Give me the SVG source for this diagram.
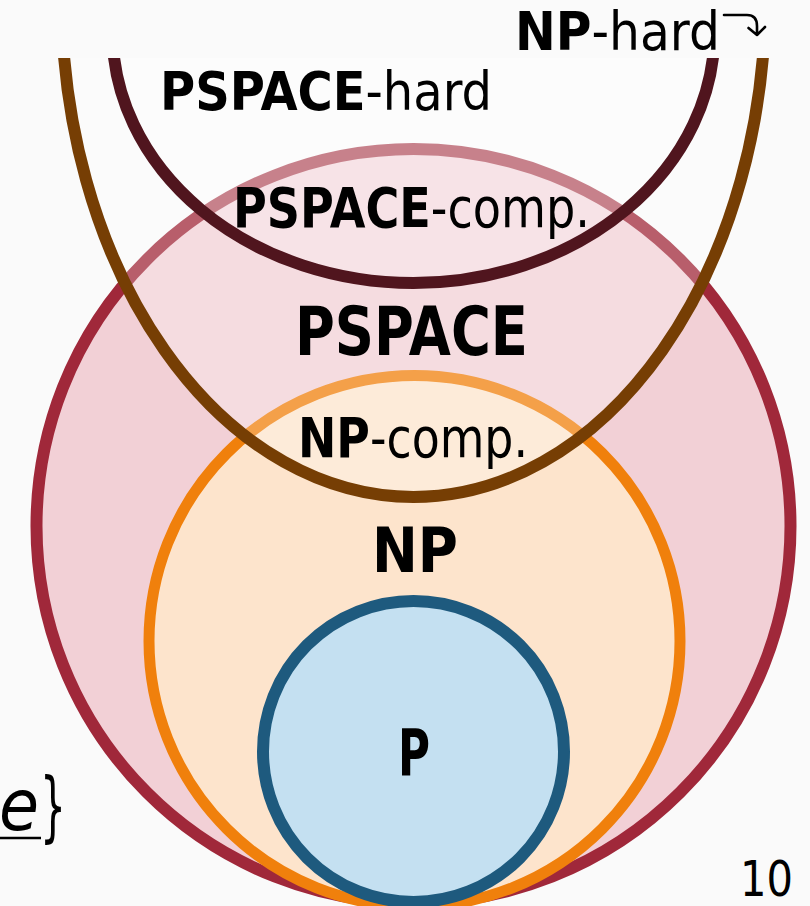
<svg xmlns="http://www.w3.org/2000/svg" width="810" height="906" viewBox="0 0 810 906">
<defs>
<style>
.lbl{font-family:"DejaVu Sans","Liberation Sans",sans-serif;fill:#000}
.b{font-weight:bold}
.ufill{fill:#ffffff}
</style>
<clipPath id="clipTop"><rect x="0" y="58" width="810" height="848"/></clipPath>
</defs>
<rect width="810" height="906" fill="#fafafa"/>
<g id="pspace">
<circle cx="413.5" cy="526" r="377" fill="#f2d0d6" stroke="#a0283a" stroke-width="12"/>
</g>
<g id="np">
<circle cx="414.5" cy="641" r="265.5" fill="#fde4cc" stroke="#f0800c" stroke-width="11"/>
</g>
<g id="p">
<circle cx="413.5" cy="751.5" r="150.5" fill="#c4e0f1" stroke="#1e5a7e" stroke-width="12"/>
</g>
<g id="np-hard" clip-path="url(#clipTop)">
<ellipse cx="413.5" cy="-4" rx="352" ry="501" class="ufill" fill-opacity="0.25"/>
</g>
<g id="pspace-hard" clip-path="url(#clipTop)">
<ellipse cx="413.5" cy="32" rx="301" ry="251" class="ufill" fill-opacity="0.22"/>
</g>
<g id="connectors" fill="none" stroke-linecap="round" stroke-linejoin="round">
<g clip-path="url(#clipTop)">
<ellipse cx="413.5" cy="-4" rx="352" ry="501" stroke="#763e04" stroke-width="12"/>
<ellipse cx="413.5" cy="32" rx="301" ry="251" stroke="#50151e" stroke-width="12"/>
</g>
<path d="M724 15 H747 Q757 15 757 26 V35 M748.5 28 L757 35 L765 27" stroke="#000" stroke-width="2.6"/>
</g>
<g id="labels">
<text class="lbl" x="515" y="50" font-size="54" textLength="205" lengthAdjust="spacingAndGlyphs"><tspan class="b">NP</tspan>-hard</text>
<text class="lbl" x="160" y="110" font-size="54" textLength="332" lengthAdjust="spacingAndGlyphs"><tspan class="b">PSPACE</tspan>-hard</text>
<text class="lbl" x="233" y="227" font-size="56" textLength="357" lengthAdjust="spacingAndGlyphs"><tspan class="b">PSPACE</tspan>-comp.</text>
<text class="lbl b" x="295" y="355" font-size="68" textLength="233" lengthAdjust="spacingAndGlyphs">PSPACE</text>
<text class="lbl" x="298" y="457" font-size="56" textLength="230" lengthAdjust="spacingAndGlyphs"><tspan class="b">NP</tspan>-comp.</text>
<text class="lbl b" x="372" y="572" font-size="62" textLength="86" lengthAdjust="spacingAndGlyphs">NP</text>
<text class="lbl b" x="398" y="775" font-size="64" textLength="32" lengthAdjust="spacingAndGlyphs">P</text>
<text class="lbl" x="740" y="896" font-size="50" textLength="53" lengthAdjust="spacingAndGlyphs">10</text>
<text class="lbl" x="-1" y="830" font-size="72" font-style="italic" textLength="40" lengthAdjust="spacingAndGlyphs">e</text>
<text class="lbl" x="40" y="832" font-size="76" textLength="26" lengthAdjust="spacingAndGlyphs">}</text>
<line x1="0" y1="838" x2="41" y2="838" stroke="#000" stroke-width="2.5"/>
</g>
</svg>
